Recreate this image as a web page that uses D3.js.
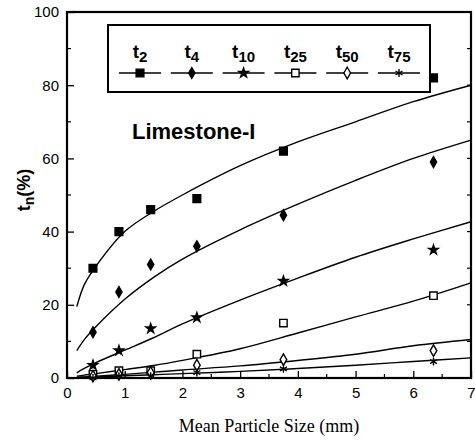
<!DOCTYPE html>
<html lang="en">
<head>
<meta charset="utf-8">
<title>Limestone-I</title>
<script src="https://d3js.org/d3.v7.min.js"></script>
<style>
  body { margin: 0; background: #fff; }
  svg { display: block; }
</style>
</head>
<body>
<div id="chart"></div>
<script>
// measured points (mean particle size in mm, t_n in %)
var sizes = [0.45, 0.9, 1.45, 2.25, 3.75, 6.35];
var t2 = [30, 40, 46, 49, 62, 82];
var t4 = [12.5, 23.5, 31, 36, 44.5, 59];
var t10 = [3.5, 7.5, 13.5, 16.5, 26.5, 35];
var t25 = [1, 2, 2, 6.5, 15, 22.5];
var t50 = [0.5, 1, 1.5, 3.5, 5, 7.5];
var t75 = [0, 0.5, 0.5, 1.5, 2.5, 4.5];

// fitted curves
var fitX = [0.17, 0.3, 0.5, 1, 1.5, 2, 3, 4, 5, 6, 7];
var fit2 = [19.5, 25.5, 30.5, 40, 45.5, 50, 58, 64.5, 70, 75.5, 80];
var fit4 = [7.5, 10.5, 14, 21.5, 27.5, 32.5, 40.5, 47.5, 54, 60, 65];
var fit10 = [1.4, 2.6, 4.2, 7.6, 11, 14.8, 21.3, 27.3, 33, 38, 42.7];
var fit25 = [0.5, 0.8, 1.2, 2.3, 3.4, 4.8, 8, 12.3, 16.7, 21, 26];
var fit50 = [0.2, 0.3, 0.5, 1, 1.6, 2.2, 3.3, 4.8, 6.5, 8.8, 10.5];
var fit75 = [0.1, 0.2, 0.3, 0.6, 0.9, 1.2, 1.8, 2.6, 3.5, 4.5, 5.5];

var seriesNames = ["2", "4", "10", "25", "50", "75"];
var xTicks = [0, 1, 2, 3, 4, 5, 6, 7];
var yTicks = [0, 20, 40, 60, 80, 100];

var w = 475, h = 441;
var padL = 67, padR = 471, padT = 12, padB = 378;

var svg = d3.select("#chart").append("svg")
    .attr("width", w).attr("height", h);

var xScale = d3.scaleLinear().domain([0, 7]).range([padL, padR]);
var yScale = d3.scaleLinear().domain([0, 100]).range([padB, padT]);

var series = [
    { name: "2", pts: t2, fit: fit2, sym: d3.symbolSquare, size: 60, fill: true },
    { name: "4", pts: t4, fit: fit4, sym: d3.symbolDiamond, size: 34, fill: true },
    { name: "10", pts: t10, fit: fit10, sym: d3.symbolStar, size: 28, fill: true },
    { name: "25", pts: t25, fit: fit25, sym: d3.symbolSquare, size: 55, fill: false },
    { name: "50", pts: t50, fit: fit50, sym: d3.symbolDiamond, size: 38, fill: false },
    { name: "75", pts: t75, fit: fit75, sym: d3.symbolAsterisk || d3.symbolCross, size: 45, fill: false }
];

// axes
var xAxis = d3.axisBottom(xScale).tickValues(xTicks).tickFormat(d3.format("d"))
    .tickSize(-7).tickPadding(9);
var yAxis = d3.axisLeft(yScale).tickValues(yTicks).tickFormat(d3.format("d"))
    .tickSize(-7).tickPadding(8);

var gx = svg.append("g")
    .attr("transform", "translate(0," + padB + ")")
    .call(xAxis);
var gy = svg.append("g")
    .attr("transform", "translate(" + padL + ",0)")
    .call(yAxis);

[gx, gy].forEach(function(g) {
    g.select(".domain").remove();
    g.selectAll(".tick line").attr("stroke", "#000").attr("stroke-width", 1.3);
    g.selectAll(".tick text")
        .attr("font-family", "Liberation Sans, Arial, sans-serif")
        .attr("font-size", 15)
        .attr("fill", "#000");
});

// minor ticks
var xMinor = d3.range(0.5, 7, 1);
var yMinor = d3.range(10, 100, 20);
svg.append("g").selectAll("line").data(xMinor).enter().append("line")
    .attr("x1", function(d) { return xScale(d); })
    .attr("x2", function(d) { return xScale(d); })
    .attr("y1", padB).attr("y2", padB - 4)
    .attr("stroke", "#000").attr("stroke-width", 1.2);
svg.append("g").selectAll("line").data(yMinor).enter().append("line")
    .attr("x1", padL).attr("x2", padL + 4)
    .attr("y1", function(d) { return yScale(d); })
    .attr("y2", function(d) { return yScale(d); })
    .attr("stroke", "#000").attr("stroke-width", 1.2);
// right side ticks
svg.append("g").selectAll("line").data(yTicks.concat(yMinor)).enter().append("line")
    .attr("x1", padR).attr("x2", padR - 4)
    .attr("y1", function(d) { return yScale(d); })
    .attr("y2", function(d) { return yScale(d); })
    .attr("stroke", "#000").attr("stroke-width", 1.2);

// frame
svg.append("rect")
    .attr("x", padL).attr("y", padT)
    .attr("width", padR - padL).attr("height", padB - padT)
    .attr("fill", "none").attr("stroke", "#000").attr("stroke-width", 2.2);

// fitted curves
var line = d3.line()
    .x(function(d) { return xScale(d[0]); })
    .y(function(d) { return yScale(d[1]); })
    .curve(d3.curveCatmullRom.alpha(0.5));

series.forEach(function(s) {
    svg.append("path")
        .datum(fitX.map(function(x, i) { return [x, s.fit[i]]; }))
        .attr("fill", "none")
        .attr("stroke", "#000")
        .attr("stroke-width", 1.4)
        .attr("d", line);
});

// markers
function drawMarker(g, s, x, y) {
    g.append("path")
        .attr("transform", "translate(" + x + "," + y + ")")
        .attr("d", d3.symbol().type(s.sym).size(s.size)())
        .attr("fill", s.fill ? "#000" : "#fff")
        .attr("stroke", "#000")
        .attr("stroke-width", 1.4);
}

series.forEach(function(s) {
    var g = svg.append("g");
    s.pts.forEach(function(v, i) {
        drawMarker(g, s, xScale(sizes[i]), yScale(v));
    });
});

// legend
var legend = svg.append("g");
legend.append("rect")
    .attr("x", 108).attr("y", 25).attr("width", 322).attr("height", 67)
    .attr("fill", "#fff").attr("stroke", "#000").attr("stroke-width", 2);

var legX = d3.scalePoint().domain(seriesNames).range([140, 399]);
series.forEach(function(s) {
    var cx = legX(s.name);
    legend.append("line")
        .attr("x1", cx - 21).attr("x2", cx + 21)
        .attr("y1", 73).attr("y2", 73)
        .attr("stroke", "#000").attr("stroke-width", 1.6);
    drawMarker(legend, s, cx, 73);
    var t = legend.append("text")
        .attr("x", cx).attr("y", 58)
        .attr("text-anchor", "middle")
        .attr("font-family", "Liberation Sans, Arial, sans-serif")
        .attr("font-weight", "bold")
        .attr("font-size", 19);
    t.append("tspan").text("t");
    t.append("tspan").attr("dy", 4).attr("font-size", 15).text(s.name);
});

// annotation
svg.append("text")
    .attr("x", 132).attr("y", 139)
    .attr("font-family", "Liberation Sans, Arial, sans-serif")
    .attr("font-weight", "bold")
    .attr("font-size", 22)
    .text("Limestone-I");

// axis labels
svg.append("text")
    .attr("x", (padL + padR) / 2).attr("y", 432)
    .attr("text-anchor", "middle")
    .attr("font-family", "Liberation Serif, Times New Roman, serif")
    .attr("font-size", 18)
    .text("Mean Particle Size (mm)");

var yl = svg.append("text")
    .attr("transform", "translate(30,190) rotate(-90)")
    .attr("text-anchor", "middle")
    .attr("font-family", "Liberation Sans, Arial, sans-serif")
    .attr("font-weight", "bold")
    .attr("font-size", 18);
yl.append("tspan").text("t");
yl.append("tspan").attr("dy", 4).attr("font-size", 14).text("n");
yl.append("tspan").attr("dy", -4).text("(%)");
</script>
</body>
</html>
